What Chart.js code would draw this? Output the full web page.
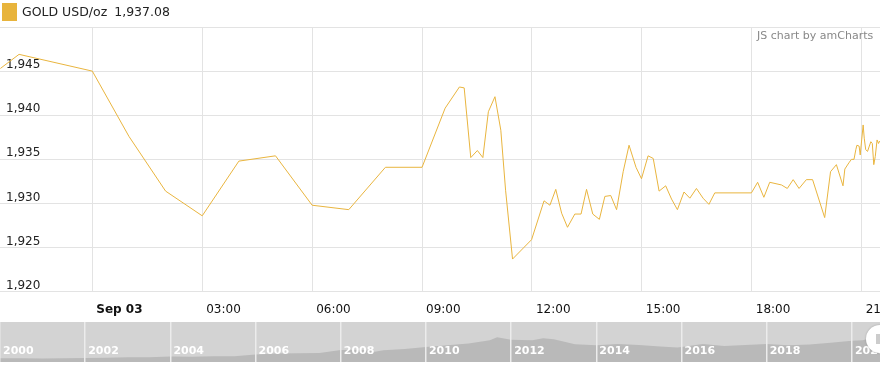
<!DOCTYPE html>
<html>
<head>
<meta charset="utf-8">
<script src="https://cdn.jsdelivr.net/npm/chart.js@4/dist/chart.umd.min.js"></script>
<style>
  html, body { margin: 0; padding: 0; background: #fff; }
  body { width: 880px; height: 369px; position: relative; overflow: hidden; font-family: "DejaVu Sans", Verdana, sans-serif; }
  #main { position: absolute; left: 0; top: 0; width: 880px; height: 322px; }
  #nav { position: absolute; left: 0; top: 322px; width: 880px; height: 40px; background: #d3d3d3; }
  .legend { position: absolute; left: 2px; top: 3px; font-size: 12.5px; color: #222; line-height: 18px; white-space: nowrap; }
  .legend .box { display: inline-block; width: 15px; height: 18px; background: #e8b43c; vertical-align: top; margin-right: 5px; }
  .legend .val { margin-left: 7px; }
  .credit { position: absolute; left: 757px; top: 29px; font-size: 11px; color: #888; white-space: nowrap; }
  .grip { position: absolute; left: 866px; top: 325px; width: 28px; height: 28px; border-radius: 50%; background: #fff; box-shadow: 0 0 2px rgba(0,0,0,0.25); }
  .grip::after { content: ''; position: absolute; left: 10px; top: 9px; width: 4px; height: 10px; background: #ccc; }
</style>
</head>
<body>
<div id="main"><canvas id="chart"></canvas></div>
<div id="nav"><canvas id="navChart"></canvas></div>
<div class="grip"></div>
<div class="legend"><span class="box"></span>GOLD USD/oz<span class="val">1,937.08</span></div>
<div class="credit">JS chart by amCharts</div>
<script>
// horas a partir de 03/09 00:00
const hours = [-2.51, -2.0, 0, 1, 2, 3, 4, 5, 6, 7, 8, 9,
  9.63, 10.02, 10.15, 10.33, 10.51, 10.66, 10.81, 10.99, 11.15, 11.28, 11.47, 11.99,
  12.33, 12.49, 12.65, 12.81, 12.97, 13.17, 13.34, 13.49, 13.66, 13.84, 13.99, 14.15,
  14.31, 14.49, 14.65, 14.84, 14.99, 15.17, 15.31, 15.47, 15.65, 15.81, 15.97, 16.15,
  16.31, 16.49, 16.67, 16.83, 16.99, 17.99, 18.16, 18.33, 18.49, 18.81, 18.97, 19.13,
  19.29, 19.49, 19.66, 19.99, 20.15, 20.31, 20.49, 20.54, 20.65, 20.72, 20.79, 20.84,
  20.87, 20.93, 20.96, 21.0, 21.04, 21.07, 21.11, 21.16, 21.2, 21.25, 21.29, 21.33,
  21.37, 21.42, 21.46, 21.49];
const prices = [1945.3, 1946.9, 1945.0, 1937.6, 1931.4, 1928.6, 1934.8, 1935.4, 1929.8, 1929.3, 1934.1, 1934.1,
  1940.8, 1943.2, 1943.1, 1935.2, 1936.0, 1935.2, 1940.4, 1942.1, 1938.3, 1931.5, 1923.7, 1925.9,
  1930.3, 1929.8, 1931.6, 1928.9, 1927.3, 1928.8, 1928.8, 1931.6, 1928.8, 1928.2, 1930.8, 1930.9,
  1929.3, 1933.6, 1936.6, 1934.1, 1932.8, 1935.4, 1935.1, 1931.4, 1932.0, 1930.5, 1929.3, 1931.3,
  1930.6, 1931.7, 1930.6, 1929.9, 1931.2, 1931.2, 1932.4, 1930.7, 1932.4, 1932.1, 1931.7, 1932.7,
  1931.7, 1932.7, 1932.7, 1928.4, 1933.6, 1934.4, 1932.0, 1933.9, 1934.6, 1935.0, 1935.0, 1936.1,
  1936.6, 1936.5, 1935.5, 1937.2, 1938.9, 1937.4, 1936.1, 1935.9, 1936.4, 1937.0, 1936.8, 1934.4,
  1935.3, 1937.2, 1936.8, 1937.08];
const dayLabel = 'Sep 03';
const yTicks = [1920, 1925, 1930, 1935, 1940, 1945, 1950];

// barra de navegação (histórico)
const navYears = [2000, 2000.5, 2001, 2001.5, 2002, 2002.5, 2003, 2003.5, 2004, 2004.5, 2005, 2005.5,
  2006, 2006.5, 2007, 2007.5, 2008, 2008.5, 2008.8, 2009, 2009.5, 2010, 2010.5, 2011, 2011.5, 2011.67,
  2012, 2012.5, 2012.75, 2013, 2013.5, 2014, 2014.5, 2015, 2015.5, 2015.9, 2016, 2016.5, 2017, 2017.5,
  2018, 2018.5, 2019, 2019.5, 2020, 2020.25, 2020.5, 2020.6, 2020.66];
const navPrices = [280, 285, 265, 270, 290, 315, 350, 350, 405, 395, 425, 430,
  550, 630, 640, 670, 890, 900, 760, 860, 950, 1110, 1230, 1360, 1600, 1820,
  1650, 1600, 1750, 1670, 1300, 1240, 1320, 1250, 1150, 1070, 1100, 1330, 1180, 1250,
  1330, 1230, 1290, 1420, 1560, 1600, 1780, 2000, 1937];

const goldColor = '#e9b53f';
const gridColor = '#e3e3e3';

function zeroPadding(scale) {
  scale.paddingLeft = 0; scale.paddingRight = 0;
  scale.paddingTop = 0; scale.paddingBottom = 0;
}

new Chart(document.getElementById('chart'), {
  type: 'line',
  data: {
    datasets: [{
      data: hours.map((h, i) => ({ x: h, y: prices[i] })),
      borderColor: goldColor,
      borderWidth: 1,
      pointRadius: 0,
      tension: 0,
      fill: false
    }]
  },
  options: {
    responsive: true,
    maintainAspectRatio: false,
    animation: false,
    layout: { padding: { top: 27, left: 0, right: 0, bottom: 0 } },
    plugins: { legend: { display: false }, tooltip: { enabled: false } },
    scales: {
      x: {
        type: 'linear',
        min: -2.52,
        max: 21.5,
        grid: { color: gridColor, drawTicks: false },
        border: { display: false },
        ticks: {
          stepSize: 3,
          includeBounds: false,
          autoSkip: false,
          maxRotation: 0,
          align: 'start',
          labelOffset: 4,
          padding: 11,
          color: '#111',
          font: ctx => ({ family: 'DejaVu Sans', size: 12, weight: ctx.tick && ctx.tick.value === 0 ? 'bold' : 'normal' }),
          callback: v => v === 0 ? dayLabel : String(v).padStart(2, '0') + ':00'
        },
        afterFit: scale => { zeroPadding(scale); scale.height = 30.3; }
      },
      y: {
        min: yTicks[0],
        max: yTicks[yTicks.length - 1],
        grid: { color: gridColor, drawTicks: false },
        border: { display: false },
        afterBuildTicks: scale => { scale.ticks = yTicks.map(v => ({ value: v })); },
        ticks: {
          mirror: true,
          padding: 6,
          labelOffset: -6,
          color: '#222',
          font: { family: 'DejaVu Sans', size: 12 },
          callback: v => v === yTicks[yTicks.length - 1] ? '' : v.toLocaleString('en-US')
        },
        afterFit: scale => { zeroPadding(scale); scale.width = 0; }
      }
    }
  }
});

new Chart(document.getElementById('navChart'), {
  type: 'line',
  data: {
    datasets: [{
      data: navYears.map((y, i) => ({ x: y, y: navPrices[i] })),
      borderWidth: 0,
      borderColor: 'rgba(0,0,0,0)',
      backgroundColor: '#b9b9b9',
      pointRadius: 0,
      tension: 0,
      fill: 'origin'
    }]
  },
  options: {
    responsive: true,
    maintainAspectRatio: false,
    animation: false,
    layout: { padding: 0 },
    plugins: { legend: { display: false }, tooltip: { enabled: false } },
    scales: {
      x: {
        type: 'linear',
        min: 2000,
        max: 2020.66,
        grid: { color: '#ececec', lineWidth: 1.5, drawTicks: false, z: 1 },
        border: { display: false },
        ticks: {
          z: 2,
          stepSize: 2,
          includeBounds: false,
          autoSkip: false,
          maxRotation: 0,
          align: 'start',
          labelOffset: 3,
          mirror: true,
          padding: 4,
          color: '#ffffff',
          font: { family: 'DejaVu Sans', size: 11, weight: 'bold' },
          callback: v => String(v)
        },
        afterFit: scale => { zeroPadding(scale); scale.height = 0; }
      },
      y: {
        display: false,
        min: 0,
        max: 2950
      }
    }
  }
});
</script>
</body>
</html>
